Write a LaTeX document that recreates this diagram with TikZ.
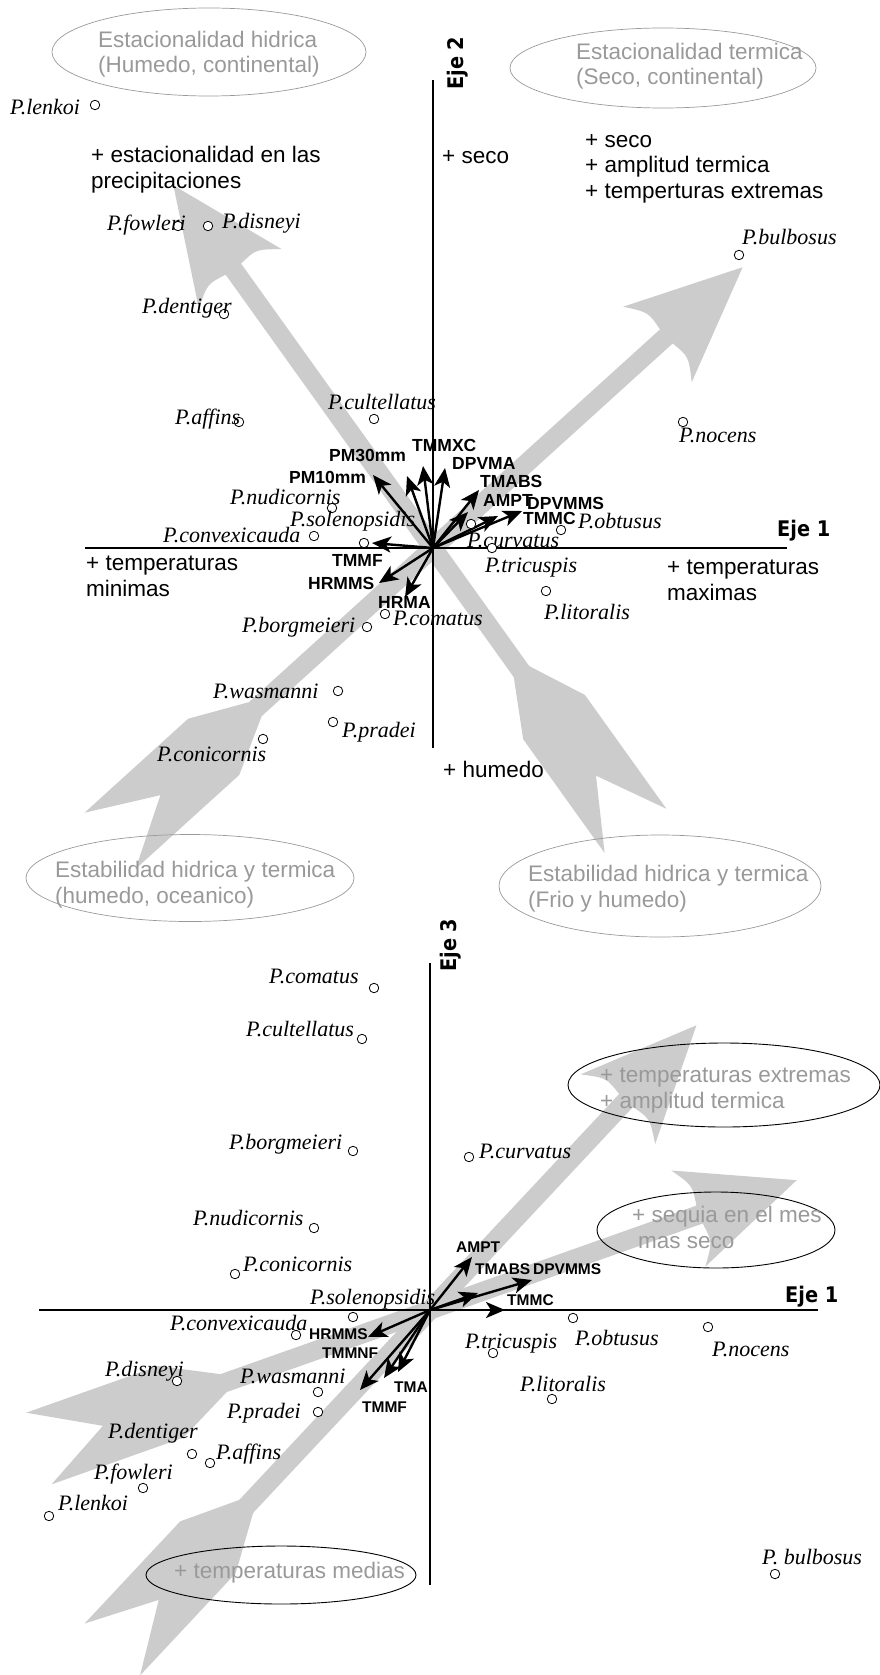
\documentclass[tikz,border=0pt]{standalone}
\usepackage{fontspec}
\setmainfont{Liberation Serif}
\setsansfont{Liberation Sans}
\newfontfamily\ejefont[FakeStretch=0.9]{DejaVu Sans}
\usetikzlibrary{arrows.meta,shapes.geometric}

\begin{document}
\begin{tikzpicture}[x=1pt, y=-1pt, >={Stealth[length=19pt,width=16pt,inset=5pt]},
    bigarrow/.style={fill=black!20},
    axis/.style={line width=2.4pt},
    var/.style={->, line width=2.4pt},
    spp/.style={circle, draw, fill=white, line width=0.8pt, inner sep=0pt, minimum size=9.5pt},
    sppl/.style={font=\itshape\fontsize{22}{24}\selectfont, inner sep=0pt, anchor=west, text height=14.5pt, text depth=0pt},
    varl/.style={font=\sffamily\bfseries\fontsize{17.5}{19}\selectfont, inner sep=0pt, anchor=west, text height=12.6pt, text depth=0pt},
    varlb/.style={varl, font=\sffamily\bfseries\fontsize{15.5}{17}\selectfont, text height=11.2pt},
    note/.style={font=\sffamily\fontsize{22.5}{25.5}\selectfont, inner sep=0pt, anchor=base west, align=left},
    zonetext/.style={note, text=black!40},
    zone/.style={ellipse, draw=black!40, line width=0.7pt, inner sep=0pt},
    zoneb/.style={zone, draw=black, line width=0.9pt},
    eje/.style={font=\ejefont\bfseries\fontsize{21.5}{23}\selectfont, inner sep=0pt, anchor=base west}]
\useasboundingbox (0,0) rectangle (880,1675);

% ---------- upper plot (Eje 1 / Eje 2) ----------
\begin{scope}[shift={(433,548)}, rotate=125.6]
  \fill[bigarrow] (-152,9.5) -- (-208,38) -- (-348,38) -- (-280,0) -- (-348,-38) -- (-208,-38) -- (-152,-9.5) -- (343,-9.5) .. controls (346,-30) .. (331,-51) -- (446,0) -- (331,51) .. controls (346,30) .. (343,9.5) -- cycle;
\end{scope}
\begin{scope}[shift={(433,548)}, rotate=42.2]
  \fill[bigarrow] (-240,9.5) -- (-296,38) -- (-436,38) -- (-368,0) -- (-436,-38) -- (-296,-38) -- (-240,-9.5) -- (315,-9.5) .. controls (318,-30) .. (303,-51) -- (418,0) -- (303,51) .. controls (318,30) .. (315,9.5) -- cycle;
\end{scope}

\node[zone, minimum width=314pt, minimum height=88pt] (hid-cont) at (209,52) {};
\node[zonetext] (hid-cont-t) at (98,73) {Estacionalidad hidrica\\(Humedo, continental)};
\node[zone, minimum width=306pt, minimum height=80pt] (ter-cont) at (663,68) {};
\node[zonetext] (ter-cont-t) at (576,85) {Estacionalidad termica\\(Seco, continental)};
\node[zone, minimum width=328pt, minimum height=87pt] (oceanico) at (190,878) {};
\node[zonetext] (oceanico-t) at (55,903) {Estabilidad hidrica y termica\\(humedo, oceanico)};
\node[zone, minimum width=322pt, minimum height=102pt] (frio) at (660,886) {};
\node[zonetext] (frio-t) at (528,907) {Estabilidad hidrica y termica\\(Frio y humedo)};

\node[note] (precip) at (91,188) {+ estacionalidad en las\\precipitaciones};
\node[note] (seco) at (442,163) {+ seco};
\node[note] (seco-ampl) at (585,198) {+ seco\\+ amplitud termica\\+ temperturas extremas};
\node[note] (minimas) at (86,596) {+ temperaturas\\minimas};
\node[note] (maximas) at (667,600) {+ temperaturas\\maximas};
\node[note] (humedo) at (443,777) {+ humedo};

\coordinate (o1) at (433,548);
\coordinate (eje2-top) at (433,80);
\coordinate (eje2-bot) at (433,748);
\coordinate (eje1-l) at (85,548);
\coordinate (eje1-r) at (787,548);
\draw[axis] (eje2-top) -- (eje2-bot);
\draw[axis] (eje1-l) -- (eje1-r);
\node[eje, rotate=90] (eje2) at (463,90) {Eje 2};
\node[eje] (eje1) at (777,536) {Eje 1};

% variables
\coordinate (pm10-a) at (373,475);
\coordinate (pm30-a) at (407,476);
\coordinate (tmmxc-a) at (423,466);
\coordinate (dpvma-a) at (445,468);
\coordinate (tmabs-a) at (479,490);
\coordinate (ampt-a) at (468,512);
\coordinate (dpvmms-a) at (522,511);
\coordinate (tmmc-a) at (498,516);
\coordinate (tmmf-a) at (372,543);
\coordinate (hrmms-a) at (379,583);
\coordinate (hrma-a) at (405,597);
\draw[var] (o1) -- (pm10-a);
\draw[var] (o1) -- (pm30-a);
\draw[var] (o1) -- (tmmxc-a);
\draw[var] (o1) -- (dpvma-a);
\draw[var] (o1) -- (tmabs-a);
\draw[var] (o1) -- (ampt-a);
\draw[var] (o1) -- (dpvmms-a);
\draw[var] (o1) -- (tmmc-a);
\draw[var] (o1) -- (tmmf-a);
\draw[var] (o1) -- (hrmms-a);
\draw[var] (o1) -- (hrma-a);
\node[varl] (pm10-a-t) at (289,477) {PM10mm};
\node[varl] (pm30-a-t) at (329,455) {PM30mm};
\node[varl] (tmmxc-a-t) at (412,445) {TMMXC};
\node[varl] (dpvma-a-t) at (452,463) {DPVMA};
\node[varl] (tmabs-a-t) at (480,481) {TMABS};
\node[varl] (ampt-a-t) at (483,500) {AMPT};
\node[varl] (dpvmms-a-t) at (527,503) {DPVMMS};
\node[varl] (tmmc-a-t) at (523,518) {TMMC};
\node[varl] (tmmf-a-t) at (332,560) {TMMF};
\node[varl] (hrmms-a-t) at (308,583) {HRMMS};
\node[varl] (hrma-a-t) at (378,602) {HRMA};

% species
\node[spp] (lenkoi-a) at (95,105) {};
\node[sppl] (lenkoi-a-t) at (10,107) {P.lenkoi};
\node[spp] (fowleri-a) at (178,226) {};
\node[sppl] (fowleri-a-t) at (107,223) {P.fowleri};
\node[spp] (disneyi-a) at (208,226) {};
\node[sppl] (disneyi-a-t) at (222,221) {P.disneyi};
\node[spp] (dentiger-a) at (224,314) {};
\node[sppl] (dentiger-a-t) at (142,306) {P.dentiger};
\node[spp] (cultellatus-a) at (374,419) {};
\node[sppl] (cultellatus-a-t) at (328,402) {P.cultellatus};
\node[spp] (affins-a) at (239,422) {};
\node[sppl] (affins-a-t) at (175,417) {P.affins};
\node[spp] (nudicornis-a) at (332,508) {};
\node[sppl] (nudicornis-a-t) at (230,497) {P.nudicornis};
\node[spp] (solenopsidis-a) at (364,543) {};
\node[sppl] (solenopsidis-a-t) at (290,519) {P.solenopsidis};
\node[spp] (convexicauda-a) at (314,536) {};
\node[sppl] (convexicauda-a-t) at (163,535) {P.convexicauda};
\node[spp] (borgmeieri-a) at (367,627) {};
\node[sppl] (borgmeieri-a-t) at (242,625) {P.borgmeieri};
\node[spp] (comatus-a) at (385,614) {};
\node[sppl] (comatus-a-t) at (393,618) {P.comatus};
\node[spp] (wasmanni-a) at (338,691) {};
\node[sppl] (wasmanni-a-t) at (213,691) {P.wasmanni};
\node[spp] (pradei-a) at (333,722) {};
\node[sppl] (pradei-a-t) at (342,730) {P.pradei};
\node[spp] (conicornis-a) at (263,739) {};
\node[sppl] (conicornis-a-t) at (157,754) {P.conicornis};
\node[spp] (bulbosus-a) at (739,255) {};
\node[sppl] (bulbosus-a-t) at (742,237) {P.bulbosus};
\node[spp] (nocens-a) at (683,422) {};
\node[sppl] (nocens-a-t) at (679,435) {P.nocens};
\node[spp] (obtusus-a) at (561,530) {};
\node[sppl] (obtusus-a-t) at (578,521) {P.obtusus};
\node[spp] (curvatus-a) at (471,524) {};
\node[sppl] (curvatus-a-t) at (467,540) {P.curvatus};
\node[spp] (tricuspis-a) at (492,548) {};
\node[sppl] (tricuspis-a-t) at (485,565) {P.tricuspis};
\node[spp] (litoralis-a) at (546,591) {};
\node[sppl] (litoralis-a-t) at (544,612) {P.litoralis};

% ---------- lower plot (Eje 1 / Eje 3) ----------
\begin{scope}[shift={(430,1310)}, rotate=46.9]
  \fill[bigarrow] (-269,9.5) -- (-325,38) -- (-465,38) -- (-397,0) -- (-465,-38) -- (-325,-38) -- (-269,-9.5) -- (287,-9.5) .. controls (290,-30) .. (275,-51) -- (390,0) -- (275,51) .. controls (290,30) .. (287,9.5) -- cycle;
\end{scope}
\begin{scope}[shift={(430,1310)}, rotate=19.5]
  \fill[bigarrow] (-219,9.5) -- (-275,38) -- (-415,38) -- (-347,0) -- (-415,-38) -- (-275,-38) -- (-219,-9.5) -- (286,-9.5) .. controls (289,-30) .. (274,-51) -- (389,0) -- (274,51) .. controls (289,30) .. (286,9.5) -- cycle;
\end{scope}

\node[zoneb, minimum width=312pt, minimum height=84pt] (extremas) at (724,1085) {};
\node[zonetext] (extremas-t) at (600,1108) {+ temperaturas extremas\\+ amplitud termica};
\node[zoneb, minimum width=238pt, minimum height=76pt] (sequia) at (716,1230) {};
\node[zonetext] (sequia-t) at (632,1248) {+ sequia en el mes\\\hspace*{6pt}mas seco};
\node[zoneb, minimum width=270pt, minimum height=58pt] (medias) at (281,1575) {};
\node[zonetext] (medias-t) at (174,1578) {+ temperaturas medias};

\coordinate (o2) at (430,1310);
\coordinate (eje3-top) at (430,963);
\coordinate (eje3-bot) at (430,1585);
\coordinate (eje1b-l) at (39,1310);
\coordinate (eje1b-r) at (818,1310);
\draw[axis] (eje3-top) -- (eje3-bot);
\draw[axis] (eje1b-l) -- (eje1b-r);
\node[eje, rotate=90] (eje3) at (456,972) {Eje 3};
\node[eje] (eje1b) at (785,1302) {Eje 1};

% variables
\coordinate (ampt-b) at (472,1257);
\coordinate (tmabs-b) at (478,1293);
\coordinate (dpvmms-b) at (532,1280);
\coordinate (tmmc-b) at (505,1310);
\coordinate (hrmms-b) at (368,1337);
\coordinate (tmmnf-b) at (398,1372);
\coordinate (tma-b) at (384,1378);
\coordinate (tmmf-b) at (360,1390);
\draw[var] (o2) -- (ampt-b);
\draw[var] (o2) -- (tmabs-b);
\draw[var] (o2) -- (dpvmms-b);
\draw[var] (o2) -- (tmmc-b);
\draw[var] (o2) -- (hrmms-b);
\draw[var] (o2) -- (tmmnf-b);
\draw[var] (o2) -- (tma-b);
\draw[var] (o2) -- (tmmf-b);
\node[varlb] (ampt-b-t) at (456,1247) {AMPT};
\node[varlb] (tmabs-b-t) at (475,1269) {TMABS};
\node[varlb] (dpvmms-b-t) at (533,1269) {DPVMMS};
\node[varlb] (tmmc-b-t) at (507,1300) {TMMC};
\node[varlb] (hrmms-b-t) at (309,1334) {HRMMS};
\node[varlb] (tmmnf-b-t) at (322,1353) {TMMNF};
\node[varlb] (tma-b-t) at (394,1387) {TMA};
\node[varlb] (tmmf-b-t) at (362,1407) {TMMF};

% species
\node[spp] (comatus-b) at (374,988) {};
\node[sppl] (comatus-b-t) at (269,976) {P.comatus};
\node[spp] (cultellatus-b) at (362,1039) {};
\node[sppl] (cultellatus-b-t) at (246,1029) {P.cultellatus};
\node[spp] (borgmeieri-b) at (353,1151) {};
\node[sppl] (borgmeieri-b-t) at (229,1142) {P.borgmeieri};
\node[spp] (nudicornis-b) at (314,1228) {};
\node[sppl] (nudicornis-b-t) at (193,1218) {P.nudicornis};
\node[spp] (conicornis-b) at (235,1274) {};
\node[sppl] (conicornis-b-t) at (243,1264) {P.conicornis};
\node[spp] (solenopsidis-b) at (353,1317) {};
\node[sppl] (solenopsidis-b-t) at (310,1297) {P.solenopsidis};
\node[spp] (convexicauda-b) at (296,1335) {};
\node[sppl] (convexicauda-b-t) at (170,1323) {P.convexicauda};
\node[spp] (curvatus-b) at (469,1157) {};
\node[sppl] (curvatus-b-t) at (479,1151) {P.curvatus};
\node[spp] (tricuspis-b) at (493,1353) {};
\node[sppl] (tricuspis-b-t) at (465,1341) {P.tricuspis};
\node[spp] (obtusus-b) at (573,1318) {};
\node[sppl] (obtusus-b-t) at (575,1338) {P.obtusus};
\node[spp] (nocens-b) at (708,1327) {};
\node[sppl] (nocens-b-t) at (712,1349) {P.nocens};
\node[spp] (litoralis-b) at (552,1399) {};
\node[sppl] (litoralis-b-t) at (520,1384) {P.litoralis};
\node[spp] (disneyi-b) at (177,1381) {};
\node[sppl] (disneyi-b-t) at (105,1369) {P.disneyi};
\node[spp] (wasmanni-b) at (318,1392) {};
\node[sppl] (wasmanni-b-t) at (240,1376) {P.wasmanni};
\node[spp] (pradei-b) at (318,1412) {};
\node[sppl] (pradei-b-t) at (227,1411) {P.pradei};
\node[spp] (dentiger-b) at (192,1454) {};
\node[sppl] (dentiger-b-t) at (108,1431) {P.dentiger};
\node[spp] (affins-b) at (210,1463) {};
\node[sppl] (affins-b-t) at (216,1452) {P.affins};
\node[spp] (fowleri-b) at (143,1488) {};
\node[sppl] (fowleri-b-t) at (94,1472) {P.fowleri};
\node[spp] (lenkoi-b) at (49,1516) {};
\node[sppl] (lenkoi-b-t) at (58,1503) {P.lenkoi};
\node[spp] (bulbosus-b) at (775,1574) {};
\node[sppl] (bulbosus-b-t) at (762,1557) {P. bulbosus};
\end{tikzpicture}
\end{document}
